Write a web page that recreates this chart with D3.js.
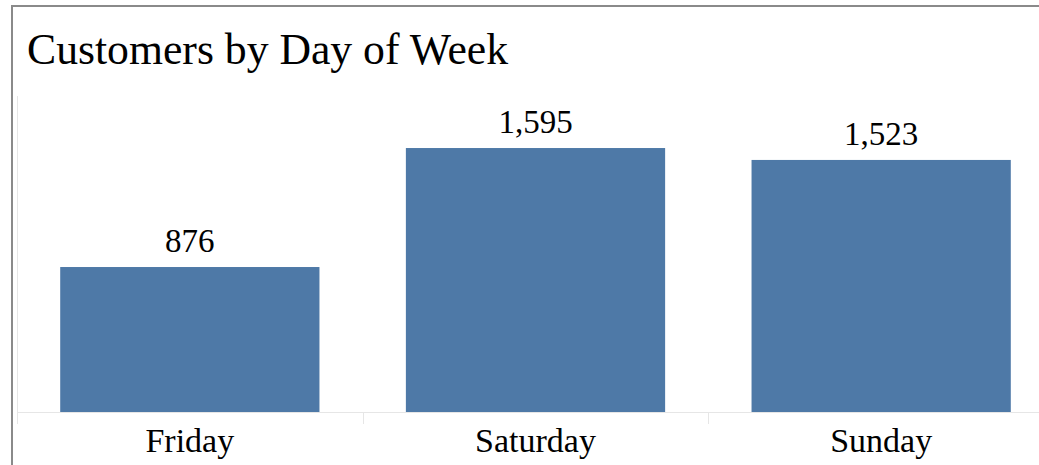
<!DOCTYPE html>
<html>
<head>
<meta charset="utf-8">
<script src="https://cdn.jsdelivr.net/npm/d3@7"></script>
<style>
html,body{margin:0;padding:0;background:#fff;}
svg{display:block;}
text{font-family:"Liberation Serif","Times New Roman",serif;fill:#000;}
</style>
</head>
<body>
<svg id="chart" width="1039" height="465"></svg>
<script>
const categories = ["Friday", "Saturday", "Sunday"];
const customers = [876, 1595, 1523];
const valueLabels = ["876", "1,595", "1,523"];
const chartTitle = "Customers by Day of Week";

(function () {
const W = 1039, H = 465;
const svg = d3.select("#chart");

// outer frame (clipped at right and bottom)
svg.append("rect")
  .attr("x", 12).attr("y", 6)
  .attr("width", W + 20).attr("height", H + 20)
  .attr("fill", "none").attr("stroke", "#8a8a8a").attr("stroke-width", 2);

svg.append("text")
  .attr("x", 27).attr("y", 64)
  .attr("font-size", 43.7)
  .text(chartTitle);

const paneLeft = 17, paneRight = 1054, paneTop = 96, baseline = 412;

const x = d3.scaleBand().domain(categories).range([paneLeft, paneRight])
  .paddingInner(0.25).paddingOuter(0.125);
const y = d3.scaleLinear().domain([0, 1000]).range([baseline, baseline - 165.5]);

// pane left line
svg.append("line")
  .attr("x1", paneLeft + 0.5).attr("x2", paneLeft + 0.5)
  .attr("y1", paneTop).attr("y2", baseline)
  .attr("stroke", "#e6e6e6").attr("stroke-width", 1);

// bars
svg.selectAll("rect.bar").data(categories).join("rect")
  .attr("class", "bar")
  .attr("x", d => x(d))
  .attr("width", x.bandwidth())
  .attr("y", (d, i) => y(customers[i]))
  .attr("height", (d, i) => baseline - y(customers[i]))
  .attr("fill", "#4e79a7");

// baseline
svg.append("line")
  .attr("x1", paneLeft).attr("x2", W)
  .attr("y1", baseline + 0.5).attr("y2", baseline + 0.5)
  .attr("stroke", "#e6e6e6").attr("stroke-width", 1);

// band separators
const step = x.step();
svg.selectAll("line.sep").data(categories).join("line")
  .attr("class", "sep")
  .attr("x1", d => Math.round(x(d) + x.bandwidth() / 2 - step / 2) + 0.5)
  .attr("x2", d => Math.round(x(d) + x.bandwidth() / 2 - step / 2) + 0.5)
  .attr("y1", baseline).attr("y2", baseline + 12)
  .attr("stroke", "#e6e6e6").attr("stroke-width", 1);

// value labels
svg.selectAll("text.val").data(categories).join("text")
  .attr("class", "val")
  .attr("x", d => x(d) + x.bandwidth() / 2)
  .attr("y", (d, i) => y(customers[i]) - 15)
  .attr("text-anchor", "middle")
  .attr("font-size", 33)
  .text((d, i) => valueLabels[i]);

// axis labels
svg.selectAll("text.cat").data(categories).join("text")
  .attr("class", "cat")
  .attr("x", d => x(d) + x.bandwidth() / 2)
  .attr("y", 452)
  .attr("text-anchor", "middle")
  .attr("font-size", 34)
  .text(d => d);
})();
</script>
</body>
</html>
